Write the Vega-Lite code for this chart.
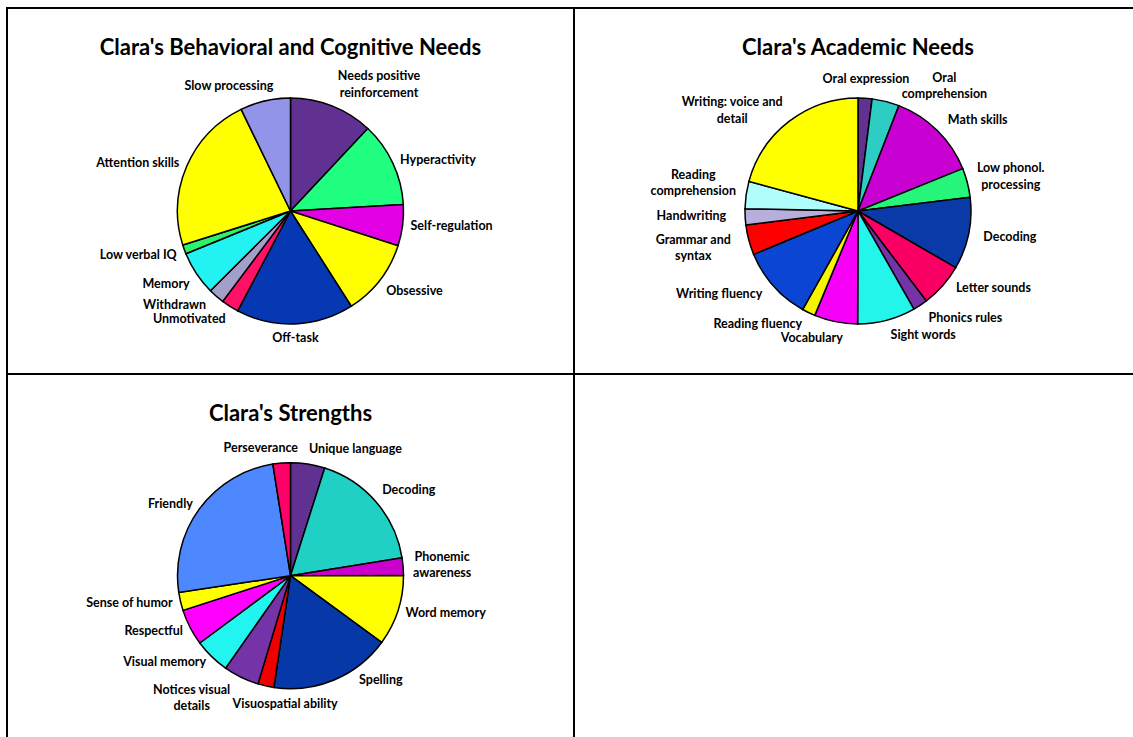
{
  "$schema": "https://vega.github.io/schema/vega-lite/v6.json",
  "padding": {"left": 6, "top": 7, "right": 0, "bottom": 0},
  "background": "white",
  "columns": 2,
  "bounds": "flush",
  "spacing": 0,
  "resolve": {"scale": {"color": "independent", "theta": "independent", "x": "independent", "y": "independent"}},
  "concat": [
    {
      "width": 567,
      "height": 366,
      "title": {"text": "Clara's Behavioral and Cognitive Needs"},
      "data": {"values": [
        {"chart": "Behavioral", "rank": 1, "name": "Needs positive\nreinforcement", "value": 12.0},
        {"chart": "Behavioral", "rank": 2, "name": "Hyperactivity", "value": 12.1},
        {"chart": "Behavioral", "rank": 3, "name": "Self-regulation", "value": 5.9},
        {"chart": "Behavioral", "rank": 4, "name": "Obsessive", "value": 11.0},
        {"chart": "Behavioral", "rank": 5, "name": "Off-task", "value": 16.8},
        {"chart": "Behavioral", "rank": 6, "name": "Unmotivated", "value": 2.5},
        {"chart": "Behavioral", "rank": 7, "name": "Withdrawn", "value": 2.3},
        {"chart": "Behavioral", "rank": 8, "name": "Memory", "value": 6.3},
        {"chart": "Behavioral", "rank": 9, "name": "Low verbal IQ", "value": 1.3},
        {"chart": "Behavioral", "rank": 10, "name": "Attention skills", "value": 22.7},
        {"chart": "Behavioral", "rank": 11, "name": "Slow processing", "value": 7.2}
      ]},
      "encoding": {
        "theta": {"field": "value", "type": "quantitative", "stack": true},
        "order": {"field": "rank", "type": "quantitative"},
        "detail": {"field": "name", "type": "nominal"},
        "y": {"field": "chart", "type": "nominal", "axis": null, "scale": {"type": "point", "align": 0.5546}}
      },
      "layer": [
        {"mark": {"type": "arc", "outerRadius": 113},
         "encoding": {"color": {"field": "name", "type": "nominal", "legend": null, "scale": {
           "domain": ["Needs positive\nreinforcement", "Hyperactivity", "Self-regulation", "Obsessive", "Off-task", "Unmotivated", "Withdrawn", "Memory", "Low verbal IQ", "Attention skills", "Slow processing"],
           "range": ["#613192", "#20FF80", "#E400E4", "#FFFF00", "#0638B4", "#FF1166", "#A29FC9", "#22F2F2", "#2EF26E", "#FFFF00", "#9194E8"]}}}},
        {"mark": {"type": "text", "radius": 121, "align": "center", "baseline": "middle", "dx": 44, "dy": -22},
         "encoding": {"text": {"condition": {"test": "indexof([1], datum.rank) >= 0", "field": "name"}, "value": ""}}},
        {"mark": {"type": "text", "radius": 121, "align": "left", "baseline": "middle"},
         "encoding": {"text": {"condition": {"test": "indexof([2,3], datum.rank) >= 0", "field": "name"}, "value": ""}}},
        {"mark": {"type": "text", "radius": 121, "align": "left", "baseline": "top"},
         "encoding": {"text": {"condition": {"test": "indexof([4], datum.rank) >= 0", "field": "name"}, "value": ""}}},
        {"mark": {"type": "text", "radius": 121, "align": "center", "baseline": "top"},
         "encoding": {"text": {"condition": {"test": "indexof([5], datum.rank) >= 0", "field": "name"}, "value": ""}}},
        {"mark": {"type": "text", "radius": 121, "align": "right", "baseline": "top"},
         "encoding": {"text": {"condition": {"test": "indexof([6,8], datum.rank) >= 0", "field": "name"}, "value": ""}}},
        {"mark": {"type": "text", "radius": 121, "align": "right", "baseline": "middle", "dx": -5, "dy": 3},
         "encoding": {"text": {"condition": {"test": "indexof([7], datum.rank) >= 0", "field": "name"}, "value": ""}}},
        {"mark": {"type": "text", "radius": 121, "align": "right", "baseline": "middle", "dy": 3},
         "encoding": {"text": {"condition": {"test": "indexof([9], datum.rank) >= 0", "field": "name"}, "value": ""}}},
        {"mark": {"type": "text", "radius": 121, "align": "right", "baseline": "middle"},
         "encoding": {"text": {"condition": {"test": "indexof([10], datum.rank) >= 0", "field": "name"}, "value": ""}}},
        {"mark": {"type": "text", "radius": 121, "align": "right", "baseline": "bottom", "dx": 10},
         "encoding": {"text": {"condition": {"test": "indexof([11], datum.rank) >= 0", "field": "name"}, "value": ""}}}
      ]
    },
    {
      "width": 560,
      "height": 366,
      "title": {"text": "Clara's Academic Needs", "dx": 4},
      "data": {"values": [
        {"chart": "Academic", "rank": 1, "name": "Oral expression", "value": 2.0},
        {"chart": "Academic", "rank": 2, "name": "Oral\ncomprehension", "value": 3.9},
        {"chart": "Academic", "rank": 3, "name": "Math skills", "value": 13.0},
        {"chart": "Academic", "rank": 4, "name": "Low phonol.\nprocessing", "value": 4.2},
        {"chart": "Academic", "rank": 5, "name": "Decoding", "value": 10.3},
        {"chart": "Academic", "rank": 6, "name": "Letter sounds", "value": 6.3},
        {"chart": "Academic", "rank": 7, "name": "Phonics rules", "value": 2.1},
        {"chart": "Academic", "rank": 8, "name": "Sight words", "value": 8.3},
        {"chart": "Academic", "rank": 9, "name": "Vocabulary", "value": 6.2},
        {"chart": "Academic", "rank": 10, "name": "Reading fluency", "value": 1.9},
        {"chart": "Academic", "rank": 11, "name": "Writing fluency", "value": 10.6},
        {"chart": "Academic", "rank": 12, "name": "Grammar and\nsyntax", "value": 4.3},
        {"chart": "Academic", "rank": 13, "name": "Handwriting", "value": 2.3},
        {"chart": "Academic", "rank": 14, "name": "Reading\ncomprehension", "value": 3.9},
        {"chart": "Academic", "rank": 15, "name": "Writing: voice and\ndetail", "value": 20.8}
      ]},
      "encoding": {
        "theta": {"field": "value", "type": "quantitative", "stack": true},
        "order": {"field": "rank", "type": "quantitative"},
        "detail": {"field": "name", "type": "nominal"},
        "x": {"field": "chart", "type": "nominal", "axis": null, "scale": {"type": "point", "align": 0.5071}},
        "y": {"field": "chart", "type": "nominal", "axis": null, "scale": {"type": "point", "align": 0.5546}}
      },
      "layer": [
        {"mark": {"type": "arc", "outerRadius": 113},
         "encoding": {"color": {"field": "name", "type": "nominal", "legend": null, "scale": {
           "domain": ["Oral expression", "Oral\ncomprehension", "Math skills", "Low phonol.\nprocessing", "Decoding", "Letter sounds", "Phonics rules", "Sight words", "Vocabulary", "Reading fluency", "Writing fluency", "Grammar and\nsyntax", "Handwriting", "Reading\ncomprehension", "Writing: voice and\ndetail"],
           "range": ["#613192", "#2DCDC4", "#C800D2", "#27F57A", "#0A3AA8", "#FA0064", "#7434A8", "#24F5EB", "#F700F7", "#F5F500", "#0A45D4", "#FF0000", "#B7AEDB", "#B0FDFD", "#FFFF00"]}}}},
        {"mark": {"type": "text", "radius": 128, "align": "center", "baseline": "bottom", "dy": 3},
         "encoding": {"text": {"condition": {"test": "indexof([1], datum.rank) >= 0", "field": "name"}, "value": ""}}},
        {"mark": {"type": "text", "radius": 128, "align": "center", "baseline": "middle", "dx": 55, "dy": -9},
         "encoding": {"text": {"condition": {"test": "indexof([2], datum.rank) >= 0", "field": "name"}, "value": ""}}},
        {"mark": {"type": "text", "radius": 128, "align": "left", "baseline": "middle"},
         "encoding": {"text": {"condition": {"test": "indexof([3,5,7,8], datum.rank) >= 0", "field": "name"}, "value": ""}}},
        {"mark": {"type": "text", "radius": 134, "align": "center", "baseline": "middle", "dx": 23, "dy": -9},
         "encoding": {"text": {"condition": {"test": "indexof([4], datum.rank) >= 0", "field": "name"}, "value": ""}}},
        {"mark": {"type": "text", "radius": 128, "align": "left", "baseline": "middle", "dx": 2, "dy": -8},
         "encoding": {"text": {"condition": {"test": "indexof([6], datum.rank) >= 0", "field": "name"}, "value": ""}}},
        {"mark": {"type": "text", "radius": 128, "align": "right", "baseline": "middle", "dx": 10, "dy": 2},
         "encoding": {"text": {"condition": {"test": "indexof([9], datum.rank) >= 0", "field": "name"}, "value": ""}}},
        {"mark": {"type": "text", "radius": 128, "align": "right", "baseline": "middle", "dy": -2},
         "encoding": {"text": {"condition": {"test": "indexof([10,11], datum.rank) >= 0", "field": "name"}, "value": ""}}},
        {"mark": {"type": "text", "radius": 128, "align": "center", "baseline": "middle", "dx": -41, "dy": -4},
         "encoding": {"text": {"condition": {"test": "indexof([12], datum.rank) >= 0", "field": "name"}, "value": ""}}},
        {"mark": {"type": "text", "radius": 128, "align": "center", "baseline": "middle", "dx": -48, "dy": -7},
         "encoding": {"text": {"condition": {"test": "indexof([15], datum.rank) >= 0", "field": "name"}, "value": ""}}},
        {"mark": {"type": "text", "radius": 128, "align": "right", "baseline": "middle", "dx": -4, "dy": -2},
         "encoding": {"text": {"condition": {"test": "indexof([13], datum.rank) >= 0", "field": "name"}, "value": ""}}},
        {"mark": {"type": "text", "radius": 128, "align": "center", "baseline": "middle", "dx": -38, "dy": -18},
         "encoding": {"text": {"condition": {"test": "indexof([14], datum.rank) >= 0", "field": "name"}, "value": ""}}}
      ]
    },
    {
      "width": 567,
      "height": 364,
      "title": {"text": "Clara's Strengths"},
      "data": {"values": [
        {"chart": "Strengths", "rank": 1, "name": "Unique language", "value": 4.9},
        {"chart": "Strengths", "rank": 2, "name": "Decoding", "value": 17.6},
        {"chart": "Strengths", "rank": 3, "name": "Phonemic\nawareness", "value": 2.5},
        {"chart": "Strengths", "rank": 4, "name": "Word memory", "value": 10.1},
        {"chart": "Strengths", "rank": 5, "name": "Spelling", "value": 17.3},
        {"chart": "Strengths", "rank": 6, "name": "Visuospatial ability", "value": 2.3},
        {"chart": "Strengths", "rank": 7, "name": "Notices visual\ndetails", "value": 5.1},
        {"chart": "Strengths", "rank": 8, "name": "Visual memory", "value": 5.1},
        {"chart": "Strengths", "rank": 9, "name": "Respectful", "value": 5.2},
        {"chart": "Strengths", "rank": 10, "name": "Sense of humor", "value": 2.6},
        {"chart": "Strengths", "rank": 11, "name": "Friendly", "value": 24.9},
        {"chart": "Strengths", "rank": 12, "name": "Perseverance", "value": 2.5}
      ]},
      "encoding": {
        "theta": {"field": "value", "type": "quantitative", "stack": true},
        "order": {"field": "rank", "type": "quantitative"},
        "detail": {"field": "name", "type": "nominal"},
        "y": {"field": "chart", "type": "nominal", "axis": null, "scale": {"type": "point", "align": 0.554}}
      },
      "layer": [
        {"mark": {"type": "arc", "outerRadius": 113},
         "encoding": {"color": {"field": "name", "type": "nominal", "legend": null, "scale": {
           "domain": ["Unique language", "Decoding", "Phonemic\nawareness", "Word memory", "Spelling", "Visuospatial ability", "Notices visual\ndetails", "Visual memory", "Respectful", "Sense of humor", "Friendly", "Perseverance"],
           "range": ["#613192", "#20D0C4", "#CC00CC", "#FFFF00", "#0638A8", "#EE0000", "#7434A8", "#22F5F0", "#FF00FF", "#FFFF00", "#4D88FF", "#FF0066"]}}}},
        {"mark": {"type": "text", "radius": 121, "align": "left", "baseline": "bottom"},
         "encoding": {"text": {"condition": {"test": "indexof([1,2], datum.rank) >= 0", "field": "name"}, "value": ""}}},
        {"mark": {"type": "text", "radius": 121, "align": "center", "baseline": "middle", "dx": 31, "dy": -9},
         "encoding": {"text": {"condition": {"test": "indexof([3], datum.rank) >= 0", "field": "name"}, "value": ""}}},
        {"mark": {"type": "text", "radius": 121, "align": "left", "baseline": "middle"},
         "encoding": {"text": {"condition": {"test": "indexof([4], datum.rank) >= 0", "field": "name"}, "value": ""}}},
        {"mark": {"type": "text", "radius": 121, "align": "left", "baseline": "bottom", "dx": 22},
         "encoding": {"text": {"condition": {"test": "indexof([5], datum.rank) >= 0", "field": "name"}, "value": ""}}},
        {"mark": {"type": "text", "radius": 121, "align": "center", "baseline": "top", "dx": 21, "dy": 4},
         "encoding": {"text": {"condition": {"test": "indexof([6], datum.rank) >= 0", "field": "name"}, "value": ""}}},
        {"mark": {"type": "text", "radius": 121, "align": "center", "baseline": "middle", "dx": -46, "dy": 5},
         "encoding": {"text": {"condition": {"test": "indexof([7], datum.rank) >= 0", "field": "name"}, "value": ""}}},
        {"mark": {"type": "text", "radius": 121, "align": "right", "baseline": "middle"},
         "encoding": {"text": {"condition": {"test": "indexof([8,9,10,11], datum.rank) >= 0", "field": "name"}, "value": ""}}},
        {"mark": {"type": "text", "radius": 121, "align": "right", "baseline": "bottom", "dx": 17},
         "encoding": {"text": {"condition": {"test": "indexof([12], datum.rank) >= 0", "field": "name"}, "value": ""}}}
      ]
    }
  ],
  "config": {
    "view": {"stroke": "#000", "strokeWidth": 2},
    "title": {"font": "Lato", "fontSize": 22, "fontWeight": "bold", "color": "#000", "anchor": "middle", "frame": "group", "offset": -52, "baseline": "alphabetic"},
    "text": {"font": "Lato", "fontWeight": "bold", "fontSize": 12.5, "lineBreak": "\n", "lineHeight": 16.5, "color": "#000"},
    "arc": {"stroke": "#000", "strokeWidth": 1.5}
  }
}
